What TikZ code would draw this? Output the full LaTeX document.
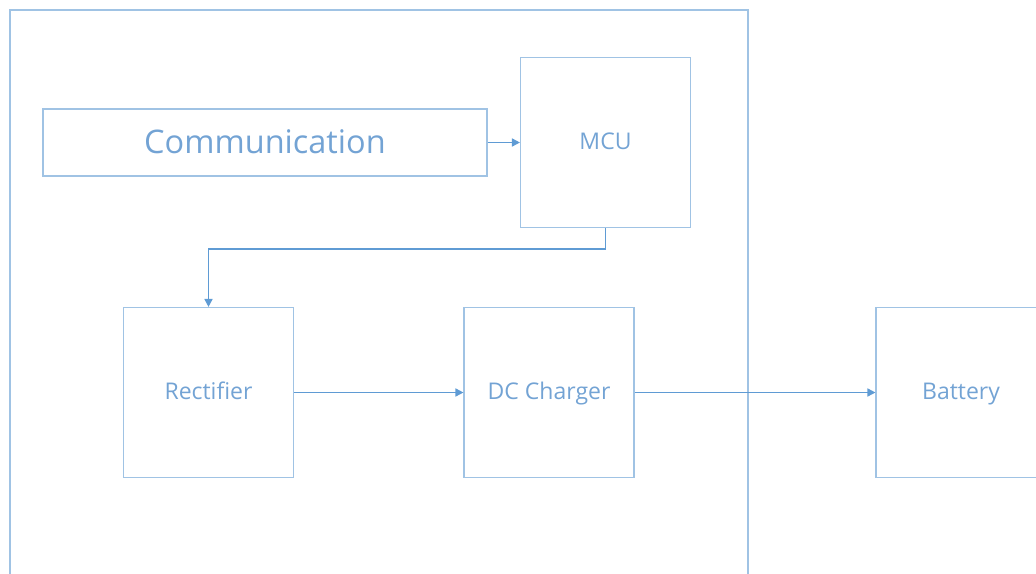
\documentclass[tikz,border=0pt]{standalone}
\usepackage{fontspec}
\setmainfont{Open Sans}
\usetikzlibrary{arrows.meta, positioning}
\definecolor{boxblue}{RGB}{160, 195, 228}
\definecolor{arrowblue}{RGB}{95, 155, 212}
\definecolor{textblue}{RGB}{115, 163, 212}

\begin{document}
\begin{tikzpicture}[
    x=1pt, y=-1pt,
    >={Triangle[length=8pt, width=8pt]},
    block/.style={draw=boxblue, line width=1.1pt, minimum width=170pt, minimum height=170pt,
        inner sep=0pt, text=textblue, text height=18pt, text depth=4pt,
        font=\fontsize{23}{27}\selectfont},
    arrow/.style={->, draw=arrowblue, line width=1.6pt}
]
\useasboundingbox (0,0) rectangle (1036,573);
\clip (0,0) rectangle (1036,573);

% === Bloque exterior ===
\draw[boxblue, line width=1.1pt] (10,10) rectangle (748,600);

% === Bloques ===
\node[block, minimum width=444pt, minimum height=67pt, text height=26pt, text depth=5pt,
    font=\fontsize{32.5}{38}\selectfont] (comm) at (265,142.5) {Communication};
\node[block] (mcu) at (605.5,142.5) {MCU};
\node[block] (rect) at (208.5,392.5) {Rectifier};
\node[block] (dcc) at (549,392.5) {DC Charger};
\node[block] (bat) at (961,392.5) {Battery};

% === Conexiones ===
\draw[arrow] (comm) -- (mcu);
\draw[arrow] (mcu.south) -- ++(0,21) -| (rect.north);
\draw[arrow] (rect) -- (dcc);
\draw[arrow] (dcc) -- (bat);

\end{tikzpicture}
\end{document}
